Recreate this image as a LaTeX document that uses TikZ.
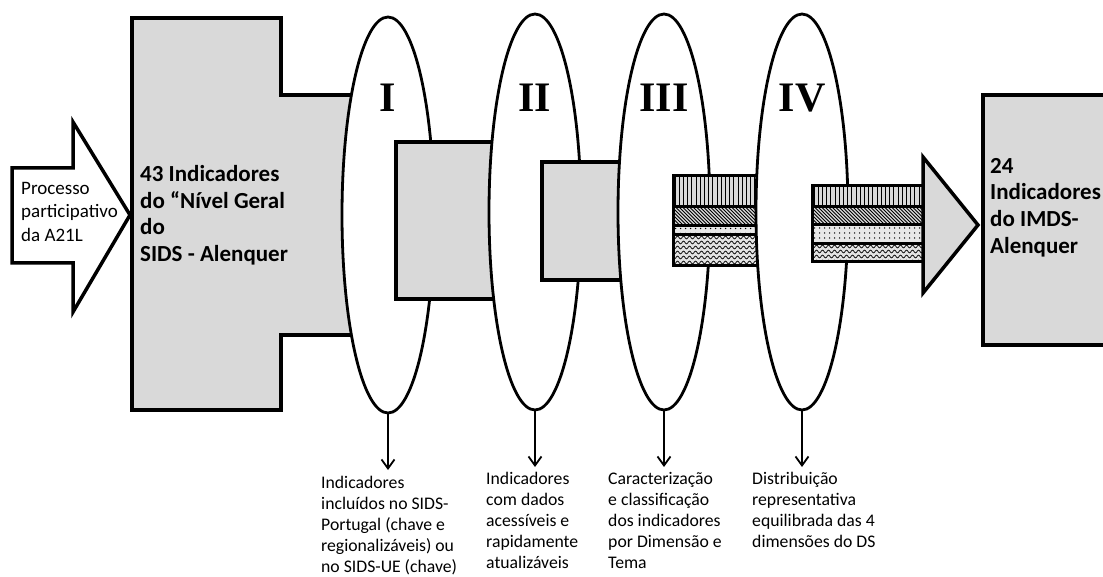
\documentclass[tikz,border=0pt]{standalone}
\usepackage{fontspec}
\setmainfont{Carlito}
\newfontfamily\numfont{Liberation Serif}
\usetikzlibrary{shapes.geometric,arrows.meta}
\definecolor{boxgray}{HTML}{D9D9D9}

\newcommand\patvlines[4]{%
  \begin{scope}
    \clip (#1,#2) rectangle (#3,#4);
    \fill[boxgray] (#1,#2) rectangle (#3,#4);
    \foreach \k in {0,4.2,...,130} \draw[line width=0.9pt] ({#1+\k+2},#2) -- ({#1+\k+2},#4);
  \end{scope}}
\newcommand\patdiag[4]{%
  \begin{scope}
    \clip (#1,#2) rectangle (#3,#4);
    \fill[boxgray] (#1,#2) rectangle (#3,#4);
    \foreach \k in {-40,-36.5,...,130} \draw[line width=0.9pt] ({#1+\k},#2) -- ({#1+\k+40},{#2+40});
  \end{scope}}
\newcommand\patdots[4]{%
  \begin{scope}
    \clip (#1,#2) rectangle (#3,#4);
    \fill[boxgray!60] (#1,#2) rectangle (#3,#4);
    \foreach \i in {0,...,26} \foreach \j in {0,...,4}
      \fill ({#1+2.5+\i*5},{#2+3+\j*5}) circle (0.75pt);
  \end{scope}}
\newcommand\patwave[4]{%
  \begin{scope}
    \clip (#1,#2) rectangle (#3,#4);
    \fill[boxgray!70] (#1,#2) rectangle (#3,#4);
    \foreach \j in {0,5,...,40}
      \draw[line width=0.7pt] plot[domain=0:120,samples=161,smooth] ({#1+\x},{#2+3+\j+1.4*sin(\x*60)});
  \end{scope}}

\begin{document}
\begin{tikzpicture}[x=1pt,y=-1pt,
  graybox/.style={draw=black,fill=boxgray,line width=3.5pt,line join=miter},
  ring/.style={ellipse,draw=black,fill=white,line width=2.8pt,minimum width=92pt,minimum height=396pt,inner sep=0pt},
  numlbl/.style={font=\numfont\bfseries\fontsize{42}{42}\selectfont,inner sep=0pt},
  desctext/.style={anchor=north west,align=left,inner sep=0pt,font=\fontsize{17.7}{21}\selectfont},
  heading/.style={anchor=north west,align=left,inner sep=0pt,font=\bfseries\fontsize{23}{26.7}\selectfont},
  downarrow/.style={-{Straight Barb[length=9pt,width=13pt]},line width=1.8pt},
  layer/.style={draw=black,line width=3pt}
]
\useasboundingbox (0,0) rectangle (1103,577);

% input arrow
\draw[draw=black,fill=white,line width=3.5pt,line join=miter]
  (12,168) -- (73,168) -- (73,122) -- (130,215) -- (73,312) -- (73,263) -- (12,263) -- cycle;

% big box
\draw[graybox] (132,18) -- (281,18) -- (281,95) -- (360,95) -- (360,335) -- (281,335) -- (281,410) -- (132,410) -- cycle;

\node[ring] (e1) at (388,215) {};
\draw[graybox] (396,142) rectangle (510,299);
\node[ring] (e2) at (535,212) {};
\draw[graybox] (542,162) rectangle (640,280);
\node[ring] (e3) at (664,212) {};

% stack III
\patvlines{673}{176}{780}{206.5}
\patdiag{673}{206.5}{780}{225.5}
\patdots{673}{225.5}{780}{234.5}
\patwave{673}{234.5}{780}{266}
\draw[layer] (673,176) rectangle (780,206.5);
\draw[layer] (673,206.5) rectangle (780,225.5);
\draw[layer] (673,225.5) rectangle (780,234.5);
\draw[layer] (673,234.5) rectangle (780,266);

\node[ring] (e4) at (802,212) {};

% stack IV
\patvlines{812}{186}{923}{206.5}
\patdiag{812}{206.5}{923}{225}
\patdots{812}{225}{923}{243.5}
\patwave{812}{243.5}{923}{262}
\draw[layer] (812,186) rectangle (923,206.5);
\draw[layer] (812,206.5) rectangle (923,225);
\draw[layer] (812,225) rectangle (923,243.5);
\draw[layer] (812,243.5) rectangle (923,262);

\draw[graybox] (923,157) -- (978,225) -- (923,293) -- cycle;

% result box
\draw[graybox] (983,95) rectangle (1108,345);

% roman labels
\node[numlbl] (n1) at (388,98) {I};
\node[numlbl] (n2) at (535,98) {II};
\node[numlbl] (n3) at (664,98) {III};
\node[numlbl] (n4) at (802,98) {IV};

% texts
\node[anchor=north west,align=left,inner sep=0pt,font=\fontsize{19}{23.5}\selectfont] (lefttxt) at (21,182) {Processo\\participativo\\da A21L};
\node[heading] (bigtxt) at (140,165) {43 Indicadores\\do “Nível Geral\\do\\SIDS - Alenquer};
\node[heading] (righttxt) at (990,158) {24\\Indicadores\\do IMDS-\\Alenquer};

\coordinate (a1) at (388,470);
\coordinate (a2) at (535,467);
\coordinate (a3) at (664,467);
\coordinate (a4) at (802,467);
\draw[downarrow] (e1.south) -- (a1);
\draw[downarrow] (e2.south) -- (a2);
\draw[downarrow] (e3.south) -- (a3);
\draw[downarrow] (e4.south) -- (a4);

\node[desctext] (d1) at (321,476) {Indicadores\\incluídos no SIDS-\\Portugal (chave e\\regionalizáveis) ou\\no SIDS-UE (chave)};
\node[desctext] (d2) at (486,472) {Indicadores\\com dados\\acessíveis e\\rapidamente\\atualizáveis};
\node[desctext] (d3) at (608,472) {Caracterização\\e classificação\\dos indicadores\\por Dimensão e\\Tema};
\node[desctext] (d4) at (752,472) {Distribuição\\representativa\\equilibrada das 4\\dimensões do DS};
\end{tikzpicture}
\end{document}
